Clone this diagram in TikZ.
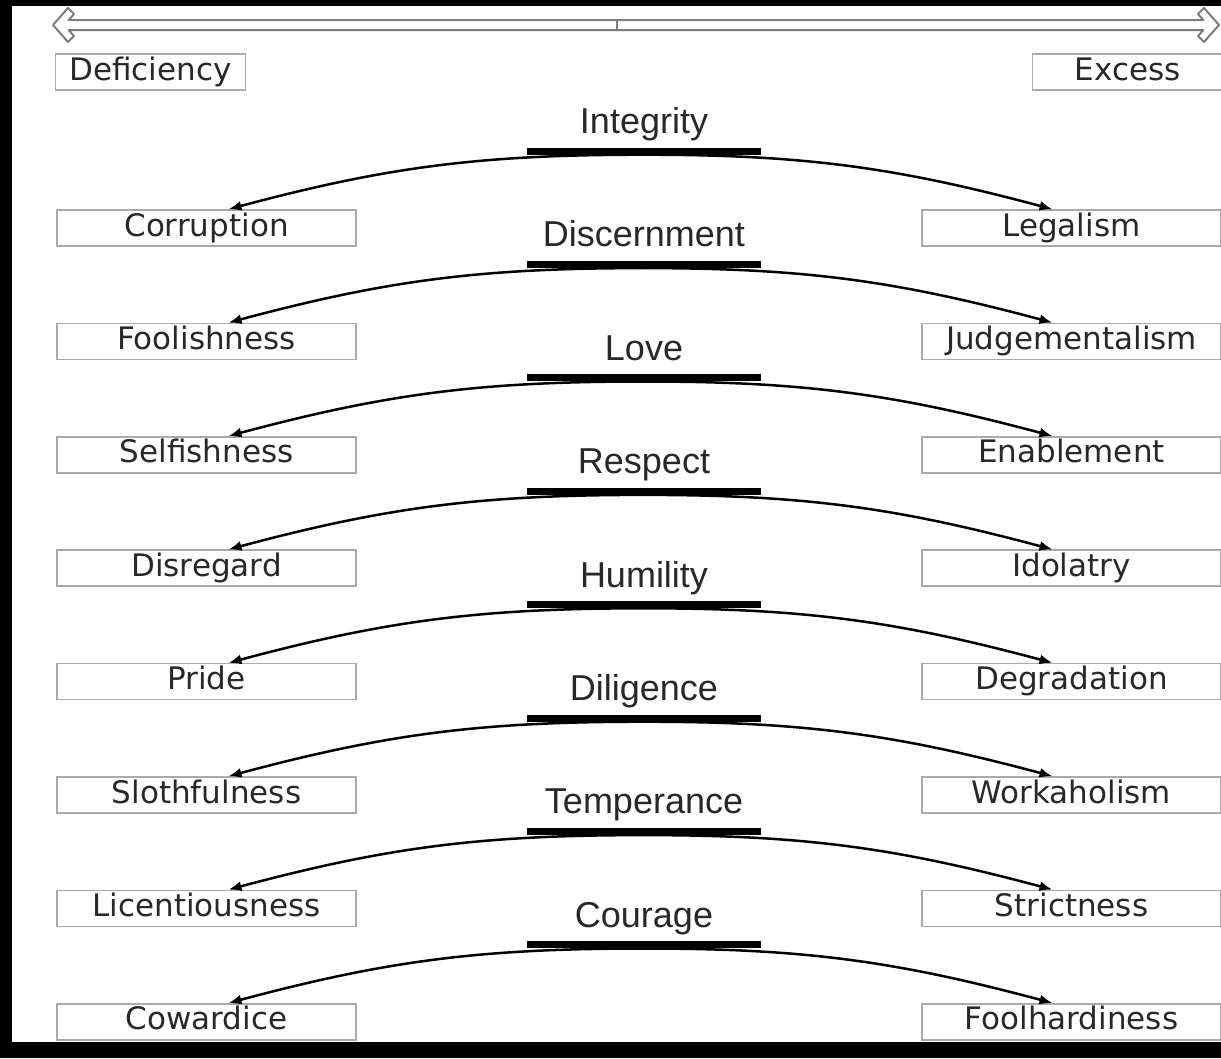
\documentclass[tikz,border=0pt]{standalone}
\usepackage{fontspec}
\setmainfont{DejaVu Sans}
\newfontfamily\virtuefont{Liberation Sans}
\usepackage{tikz}
\usetikzlibrary{arrows.meta,positioning,calc}
\usepackage{xcolor}
\definecolor{boxgray}{RGB}{170,170,170}
\definecolor{textgray}{RGB}{40,40,40}
\definecolor{scalegray}{RGB}{125,125,125}
\tikzset{
    vice/.style={rectangle, draw=boxgray, line width=1.5pt, minimum width=299pt, minimum height=36pt, inner sep=0pt, text height=22pt, text depth=6pt, font=\fontsize{31}{31}\selectfont, text=textgray},
    endbox/.style={vice, minimum width=190pt},
    virtue/.style={anchor=base, inner sep=0pt, font=\virtuefont\fontsize{36}{36}\selectfont, text=textgray},
    mean/.style={rectangle, fill=black, minimum width=234pt, minimum height=7pt, inner sep=0pt},
    pull/.style={line width=2.5pt, black, -{Latex[length=13pt,width=10pt]}},
    scaleline/.style={draw=scalegray, line width=2pt, line join=round},
}
\begin{document}
\begin{tikzpicture}[x=1pt,y=1pt]
    \useasboundingbox (0,0) rectangle (1221,-1058);
    \fill[black] (0,0) rectangle (1221,-1058);
    \fill[white] (12,-6) rectangle (1221,-1042);

    % Scale from deficiency to excess (open double arrow)
    \draw[scaleline] (53,-25) -- (68,-8) -- (74,-14) -- (68.7,-20) -- (1203.3,-20)
        -- (1198,-14) -- (1204,-8) -- (1219,-25) -- (1204,-42) -- (1198,-36)
        -- (1203.3,-30) -- (68.7,-30) -- (74,-36) -- (68,-42) -- cycle;
    \draw[scalegray, line width=1.5pt] (617,-20) -- (617,-30);
    \node[endbox] (Def) at (150.5,-72) {Deficiency};
    \node[endbox] (Exc) at (1127.5,-72) {Excess};

    % Virtues with their deficiency and excess
    \foreach \i/\vir/\lo/\hi in {1/Integrity/Corruption/Legalism,
        2/Discernment/Foolishness/Judgementalism,
        3/Love/Selfishness/Enablement,
        4/Respect/Disregard/Idolatry,
        5/Humility/Pride/Degradation,
        6/Diligence/Slothfulness/Workaholism,
        7/Temperance/Licentiousness/Strictness,
        8/Courage/Cowardice/Foolhardiness}{
        \pgfmathsetmacro\y{-151-113.4*(\i-1)}
        \node[mean] (bar\i) at (644,\y) {};
        \node[virtue] (vir\i) at (644,\y+17.5) {\vir};
        \node[vice] (lo\i) at (206.5,\y-77) {\lo};
        \node[vice] (hi\i) at (1071.5,\y-77) {\hi};
        \draw[pull] (bar\i.south) to[out=180,in=15] ([xshift=22pt]lo\i.north);
        \draw[pull] (bar\i.south) to[out=0,in=165] ([xshift=-19pt]hi\i.north);
    }
\end{tikzpicture}
\end{document}
